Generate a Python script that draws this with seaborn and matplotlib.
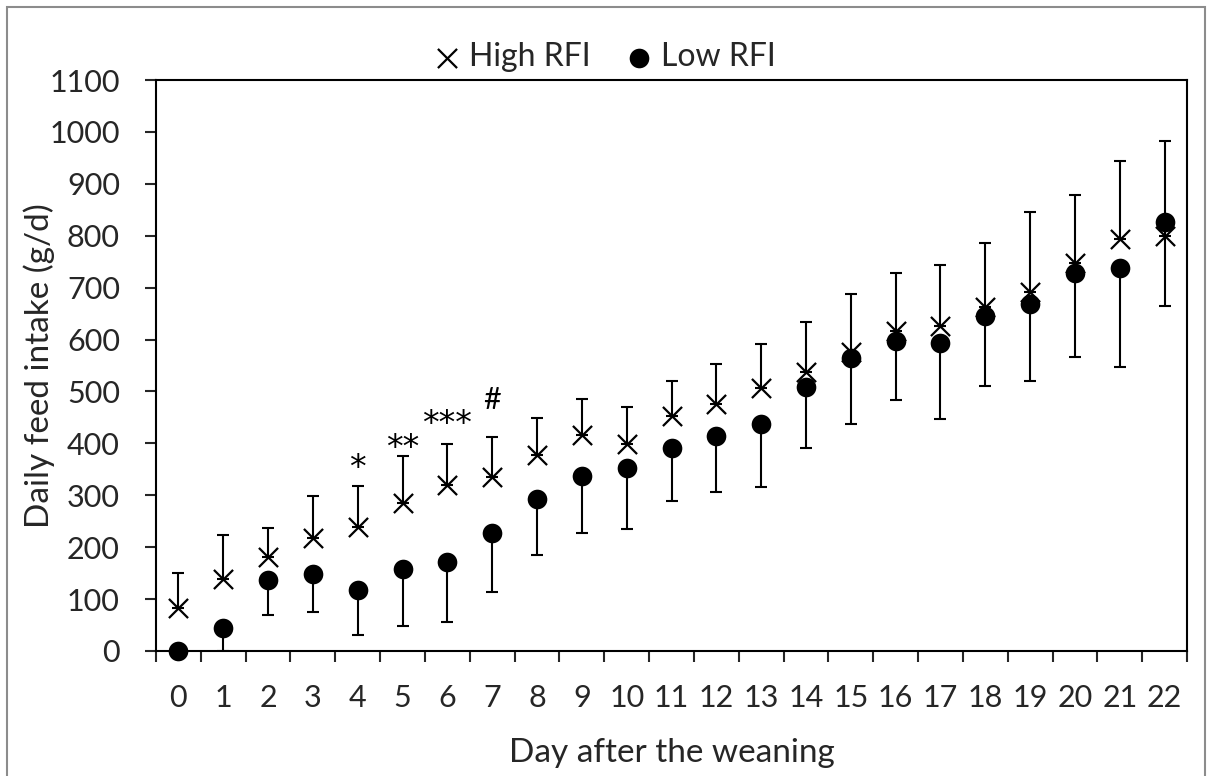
import numpy as np
import matplotlib
matplotlib.use("Agg")
import matplotlib.pyplot as plt
import seaborn as sns
from matplotlib.patches import Rectangle

# data
days = list(range(23))
high_rfi = [82, 139, 182, 217, 238, 286, 320, 336, 378, 417, 398, 453, 475,
            506, 538, 576, 616, 626, 663, 691, 748, 793, 800]
high_sd = [68, 85, 55, 82, 79, 89, 78, 76, 70, 69, 73, 67, 78,
           86, 96, 111, 113, 118, 123, 154, 131, 151, 183]
low_rfi = [0, 44, 137, 148, 118, 158, 172, 228, 293, 338, 352, 391, 414,
           437, 508, 565, 597, 594, 645, 668, 728, 737, 826]
low_sd = [0, 44, 68, 72, 88, 110, 117, 115, 109, 110, 117, 102, 107,
          122, 116, 127, 113, 147, 135, 148, 161, 190, 161]

# significance marks (value = centre of the glyph)
sig_days = [4, 5, 6, 7]
sig_labels = ["*", "**", "***", "#"]
sig_y = [368, 407, 453, 484]

yticks = list(range(0, 1101, 100))

sns.set_style("ticks")
plt.rcParams["font.family"] = ["Lato", "DejaVu Sans"]

fig = plt.figure(figsize=(12.13, 7.76), dpi=100)
ax = fig.add_axes([0.1286, 0.1611, 0.85, 0.7358])

lw = 1.5
zeros = np.zeros(len(days))

# error bars: high only upward, low only downward
ax.errorbar(days, high_rfi, yerr=[zeros, high_sd], fmt="none", ecolor="black",
            elinewidth=lw, capsize=4.5, capthick=lw, zorder=2)
ax.errorbar(days, low_rfi, yerr=[low_sd, zeros], fmt="none", ecolor="black",
            elinewidth=lw, capsize=4.5, capthick=lw, zorder=2)

sns.scatterplot(x=days, y=high_rfi, marker="x", s=190, color="black",
                linewidth=1.6, label="High RFI", ax=ax, zorder=3, clip_on=False)
sns.scatterplot(x=days, y=low_rfi, marker="o", s=200, color="black",
                edgecolor="black", linewidth=0, label="Low RFI", ax=ax,
                zorder=4, clip_on=False)

for d, t, yv in zip(sig_days, sig_labels, sig_y):
    if t == "#":
        ax.text(d, yv, t, ha="center", va="center", fontsize=22, color="black")
    else:
        # asterisks from DejaVu sit high, so shift baseline down
        ax.annotate(t, (d, yv), xytext=(0, -13), textcoords="offset points",
                    ha="center", va="baseline", fontsize=24,
                    family="DejaVu Sans", color="black")

ax.set_xlim(-0.5, 22.5)
ax.set_ylim(0, 1100)
ax.set_yticks(yticks)
ax.set_yticklabels([str(v) for v in yticks])

# boundary ticks (major) and centred labels (minor)
ax.set_xticks(np.arange(-0.5, 23, 1))
ax.set_xticklabels([])
ax.set_xticks(days, minor=True)
ax.set_xticklabels([str(d) for d in days], minor=True)
ax.tick_params(axis="x", which="major", direction="out", length=8, width=lw)
ax.tick_params(axis="x", which="minor", length=0, pad=24, labelsize=22)
ax.tick_params(axis="y", direction="out", length=8, width=lw, pad=18,
               labelsize=22)

for s in ax.spines.values():
    s.set_visible(True)
    s.set_linewidth(lw)
    s.set_color("black")

ax.set_xlabel("Day after the weaning", fontsize=24)
ax.set_ylabel("Daily feed intake (g/d)", fontsize=24)
ax.xaxis.set_label_coords(0.5, -0.178)
ax.xaxis.label.set_va("center")
ax.yaxis.set_label_coords(-0.113, 0.5)
ax.yaxis.label.set_va("center")

ax.legend(loc="center", bbox_to_anchor=(0.4355, 1.04), ncol=2, frameon=False,
          fontsize=23, handletextpad=0.3, handlelength=0.8, columnspacing=1.1,
          markerscale=1.0, borderaxespad=0)

# outer grey frame
fig.patches.append(Rectangle((7 / 1213, -0.01), 1198 / 1213, 1 - 7 / 776 + 0.01,
                             transform=fig.transFigure, fill=False,
                             edgecolor="#8c8c8c", linewidth=1.5))

fig.savefig("out.png", dpi=100)
